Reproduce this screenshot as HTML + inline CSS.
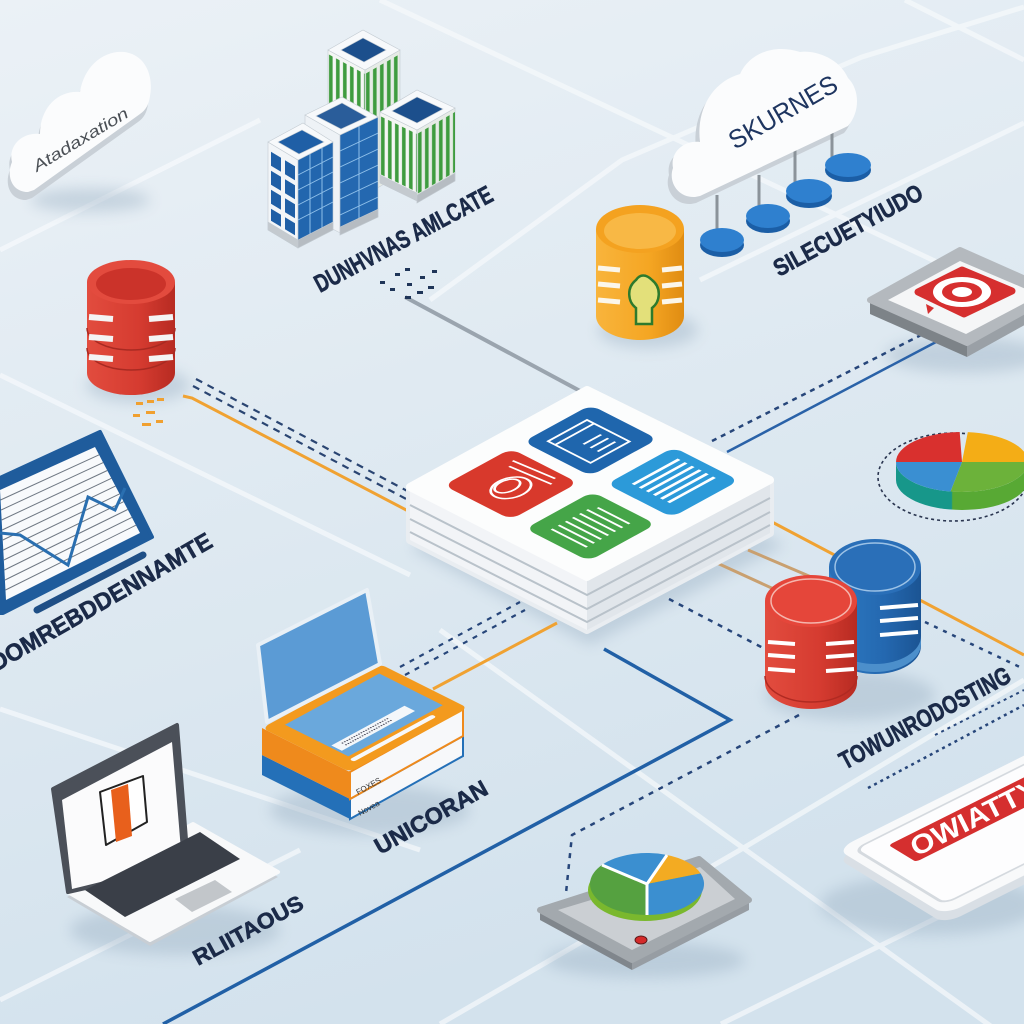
<!DOCTYPE html>
<html><head><meta charset="utf-8"><style>
html,body{margin:0;padding:0;width:1024px;height:1024px;overflow:hidden;background:#e3ecf3}
svg{display:block}
text{font-family:"Liberation Sans",sans-serif}
.lb{font-family:"Liberation Sans Narrow","Liberation Sans",sans-serif;font-weight:bold;fill:#1b2a48;stroke:#1b2a48;stroke-width:0.6}
</style></head><body>
<svg width="1024" height="1024" viewBox="0 0 1024 1024" xmlns="http://www.w3.org/2000/svg">
<defs>
<linearGradient id="bg" x1="0" y1="0" x2="0.3" y2="1">
<stop offset="0" stop-color="#ebf1f6"/><stop offset="1" stop-color="#d3e2ed"/>
</linearGradient>
<linearGradient id="cr" x1="0" x2="1"><stop offset="0" stop-color="#e24c3e"/><stop offset="0.6" stop-color="#d53b30"/><stop offset="1" stop-color="#b72b22"/></linearGradient>
<linearGradient id="co" x1="0" x2="1"><stop offset="0" stop-color="#f8b43c"/><stop offset="0.6" stop-color="#f5a623"/><stop offset="1" stop-color="#e08c12"/></linearGradient>
<linearGradient id="cb" x1="0" x2="1"><stop offset="0" stop-color="#2e7cc4"/><stop offset="0.6" stop-color="#2468b0"/><stop offset="1" stop-color="#1b5493"/></linearGradient>
<linearGradient id="pside" x1="0" x2="1"><stop offset="0" stop-color="#17978a"/><stop offset="0.42" stop-color="#17978a"/><stop offset="0.43" stop-color="#58a934"/><stop offset="1" stop-color="#58a934"/></linearGradient>
<pattern id="gs" width="7" height="20" patternUnits="userSpaceOnUse"><rect x="1" width="3.6" height="20" fill="#3f9c3f"/></pattern>
<filter id="bl" x="-30%" y="-30%" width="160%" height="160%"><feGaussianBlur stdDeviation="7"/></filter>
</defs>
<rect width="1024" height="1024" fill="url(#bg)"/>

<!-- grid -->
<g stroke="#f7fafc" stroke-width="5" opacity="0.7" fill="none">
<path d="M380,0 L1024,303"/>
<path d="M905,0 L1024,60"/>
<path d="M0,375 L410,575"/>
<path d="M0,709 L420,850"/>
<path d="M440,630 L1024,1050"/>
<path d="M430,300 L622,160 L862,57 L1024,7"/>
<path d="M700,280 L1024,123"/>
<path d="M440,1024 L740,850 L1024,680"/>
<path d="M721,1024 L1024,875"/>
<path d="M0,1000 L300,850"/>
<path d="M0,250 L260,120"/>
</g>

<!-- shadows -->
<g filter="url(#bl)" fill="#9fb4c6" opacity="0.45">
<ellipse cx="138" cy="385" rx="52" ry="18"/>
<ellipse cx="648" cy="330" rx="50" ry="18"/>
<polygon points="410,548 590,645 785,545 600,455"/>
<ellipse cx="850" cy="695" rx="85" ry="25"/>
<ellipse cx="175" cy="930" rx="105" ry="25"/>
<ellipse cx="370" cy="810" rx="100" ry="25"/>
<ellipse cx="645" cy="960" rx="100" ry="18"/>
<ellipse cx="965" cy="355" rx="80" ry="18"/>
<ellipse cx="930" cy="905" rx="110" ry="30"/>
<ellipse cx="90" cy="200" rx="60" ry="12"/>
</g>

<!-- connectors -->
<g fill="none" stroke-linecap="butt">
<path d="M405,297 L582,392" stroke="#9aa4ae" stroke-width="4"/>
<path d="M183,396 L192,398 L412,513" stroke="#f0a232" stroke-width="3"/>
<path d="M196,379 L413,494" stroke="#2a4572" stroke-width="2.2" stroke-dasharray="7 6"/>
<path d="M193,386 L410,501" stroke="#2a4572" stroke-width="2.2" stroke-dasharray="7 6"/>
<path d="M712,441 L925,333" stroke="#27467a" stroke-width="2.5" stroke-dasharray="5 5"/>
<path d="M727,452 L936,342" stroke="#2a62a8" stroke-width="2.5"/>
<path d="M772,522 L1024,655" stroke="#f0a232" stroke-width="3"/>
<path d="M717,563 L800,601" stroke="#c9a070" stroke-width="3"/>
<path d="M748,550 L830,585" stroke="#c9a070" stroke-width="3"/>
<path d="M669,599 L765,649" stroke="#27467a" stroke-width="2.5" stroke-dasharray="5 6"/>
<path d="M604,649 L730,720 L163,1024" stroke="#2160a6" stroke-width="3.5"/>
<path d="M799,715 L572,835 L566,893" stroke="#27467a" stroke-width="2.5" stroke-dasharray="5 6"/>
<path d="M433,689 L557,623" stroke="#f0a232" stroke-width="3"/>
<path d="M400,667 L520,602" stroke="#27467a" stroke-width="2.2" stroke-dasharray="5 6"/>
<path d="M405,675 L525,610" stroke="#27467a" stroke-width="2.2" stroke-dasharray="5 6"/>
<path d="M925,622 L1024,669" stroke="#27467a" stroke-width="2.5" stroke-dasharray="4 6"/>
<path d="M868,788 L1024,705" stroke="#27467a" stroke-width="2.5" stroke-dasharray="3 4"/>
<path d="M935,735 L1024,690" stroke="#27467a" stroke-width="2" stroke-dasharray="3 4"/>
</g>

<!-- small marks -->
<g fill="#f0a030">
<rect x="136" y="402" width="7" height="3"/><rect x="147" y="400" width="7" height="3"/><rect x="157" y="398" width="7" height="3"/>
<rect x="133" y="414" width="7" height="3"/><rect x="146" y="411" width="9" height="3"/>
<rect x="142" y="423" width="9" height="3"/><rect x="156" y="420" width="7" height="3"/>
</g>
<g fill="#1f3558">
<rect x="380" y="281" width="5" height="3"/><rect x="395" y="273" width="5" height="3"/><rect x="405" y="268" width="5" height="3"/>
<rect x="390" y="288" width="5" height="3"/><rect x="407" y="283" width="5" height="3"/><rect x="420" y="276" width="5" height="3"/><rect x="432" y="270" width="5" height="3"/>
<rect x="405" y="296" width="6" height="3"/><rect x="417" y="291" width="6" height="3"/><rect x="428" y="286" width="6" height="3"/>
</g>

<!-- top-left cloud -->
<path d="M26,200 C10,200 4,184 10,170 C6,154 20,140 38,142 C38,116 56,98 78,100 C82,74 102,58 122,60 C142,62 152,82 148,104 C147,112 144,118 138,122 L32,198 Z" fill="#c9d0d7"/>
<path d="M28,192 C12,192 6,176 12,162 C8,146 22,132 40,134 C40,108 58,90 80,92 C84,66 104,50 124,52 C144,54 154,74 150,96 C149,104 146,110 140,114 L34,190 Z" fill="#fbfcfd"/>
<text transform="translate(37,172) rotate(-31)" font-size="16" font-style="italic" fill="#4a4f55" textLength="108" lengthAdjust="spacingAndGlyphs">Atadaxation</text>

<!-- buildings -->
<g stroke="#c3cbd2" stroke-width="0.6">
<g transform="matrix(1,0.54,0,1,328,50)"><rect width="37" height="125" fill="#f4f6f4"/><rect y="4" width="37" height="116" fill="url(#gs)" stroke="none"/></g>
<g transform="matrix(1,-0.571,0,1,365,70)"><rect width="35" height="125" fill="#e6ebe6"/><rect y="4" width="35" height="116" fill="url(#gs)" stroke="none"/></g>
<polygon points="328,50 363,30 400,50 365,70" fill="#f7f9fb"/>
<polygon points="341,50 363,38 386,50 364,62" fill="#1c4f8c"/>
<g transform="matrix(1,0.486,0,1,380,112)"><rect width="37" height="71" fill="#f4f6f4"/><rect y="4" width="37" height="58" fill="url(#gs)" stroke="none"/><rect y="63" width="37" height="8" fill="#c4cacf"/></g>
<g transform="matrix(1,-0.579,0,1,417,130)"><rect width="38" height="73" fill="#e6ebe6"/><rect y="4" width="38" height="60" fill="url(#gs)" stroke="none"/><rect y="65" width="38" height="8" fill="#b6bcc2"/></g>
<polygon points="380,112 417,90 455,108 417,130" fill="#f7f9fb"/>
<polygon points="392,111 417,97 443,109 417,123" fill="#1c4f8c"/>
<g transform="matrix(1,0.51,0,1,305,115)"><rect width="35" height="100" fill="#eef2f6"/></g>
<g transform="matrix(1,-0.47,0,1,340,135)"><rect width="38" height="100" fill="#2468b0"/>
<path d="M0,16 H38 M0,32 H38 M0,48 H38 M0,64 H38 M0,80 H38 M19,0 V92" stroke="#8fc0ea" stroke-width="1"/>
<rect y="92" width="38" height="8" fill="#b6bcc2"/></g>
<polygon points="305,115 342,97 378,117 340,135" fill="#f7f9fb"/>
<polygon points="316,116 342,103 367,117 341,129" fill="#2a5d9a"/>
<g transform="matrix(1,0.6,0,1,268,142)"><rect width="30" height="88" fill="#f2f5f8"/>
<g fill="#1f5fa6" stroke="none"><rect x="3" y="8" width="10" height="14"/><rect x="17" y="8" width="10" height="14"/><rect x="3" y="27" width="10" height="14"/><rect x="17" y="27" width="10" height="14"/><rect x="3" y="46" width="10" height="14"/><rect x="17" y="46" width="10" height="14"/><rect x="3" y="65" width="10" height="12"/><rect x="17" y="65" width="10" height="12"/></g>
<rect y="80" width="30" height="8" fill="#c4cacf"/></g>
<g transform="matrix(1,-0.514,0,1,298,160)"><rect width="35" height="88" fill="#2266ae"/>
<path d="M0,15 H35 M0,30 H35 M0,45 H35 M0,60 H35 M12,0 V80 M24,0 V80" stroke="#8fc0ea" stroke-width="1"/>
<rect y="80" width="35" height="8" fill="#b6bcc2"/></g>
<polygon points="268,142 303,123 333,142 298,160" fill="#f7f9fb"/>
<polygon points="278,142 302,130 324,142 299,154" fill="#1f5fa6"/>
</g>
<text class="lb" transform="translate(320,293) rotate(-28)" font-size="25" textLength="198" lengthAdjust="spacingAndGlyphs">DUNHVNAS AMLCATE</text>

<!-- red DB left -->
<path d="M87,282 L87,373 A44,22 0 0 0 175,373 L175,282 Z" fill="url(#cr)"/>
<path d="M87,328 A44,22 0 0 0 175,328 M87,348 A44,22 0 0 0 175,348" fill="none" stroke="#a82a22" stroke-width="1.5"/>
<ellipse cx="131" cy="282" rx="44" ry="22" fill="#e34b3e"/>
<ellipse cx="131" cy="284" rx="35" ry="16" fill="#cb332a"/>
<g stroke="#f4f4f4" stroke-width="6"><path d="M89,317 L113,319 M149,319 L173,317 M89,337 L113,339 M149,339 L173,337 M89,357 L113,359 M149,359 L173,357"/></g>

<!-- orange cylinder -->
<path d="M596,229 L596,316 A44,24 0 0 0 684,316 L684,229 Z" fill="url(#co)"/>
<ellipse cx="640" cy="229" rx="44" ry="24" fill="#f4a220"/>
<ellipse cx="640" cy="231" rx="36" ry="18" fill="#f8b845"/>
<g stroke="#fbf6ea" stroke-width="5"><path d="M598,268 L620,270 M662,270 L682,268 M598,284 L620,286 M662,286 L682,284 M598,300 L620,302 M662,302 L682,300"/></g>
<path d="M636,280 C626,288 628,302 636,308 L636,324 L652,324 L652,308 C660,302 662,288 652,280 C646,274 640,274 636,280 Z" fill="#e3e07a" stroke="#2d7a2d" stroke-width="2.5"/>

<!-- top-right cloud -->
<path d="M691,204 C674,205 664,189 669,175 C666,159 680,147 696,149 C692,117 708,89 736,81 C746,59 772,51 796,59 C808,57 834,63 844,85 C856,97 856,119 844,133 L696,203 Z" fill="#c9d0d7"/>
<g stroke="#8b939a" stroke-width="3"><path d="M717,195 V236 M759,175 V212 M795,150 V186 M832,132 V160"/></g>
<path d="M695,197 C678,198 668,182 673,168 C670,152 684,140 700,142 C696,110 712,82 740,74 C750,52 776,44 800,52 C812,50 838,56 848,78 C860,90 860,112 848,126 L700,196 Z" fill="#fbfcfd"/>
<text transform="translate(735,150) rotate(-30)" font-size="26" fill="#1e3560" textLength="121" lengthAdjust="spacingAndGlyphs">SKURNES</text>
<g>
<ellipse cx="722" cy="245" rx="22" ry="12" fill="#1b5ea6"/><ellipse cx="722" cy="240" rx="22" ry="12" fill="#2f80cf"/>
<ellipse cx="768" cy="221" rx="22" ry="12" fill="#1b5ea6"/><ellipse cx="768" cy="216" rx="22" ry="12" fill="#2f80cf"/>
<ellipse cx="809" cy="196" rx="23" ry="12" fill="#1b5ea6"/><ellipse cx="809" cy="191" rx="23" ry="12" fill="#2f80cf"/>
<ellipse cx="848" cy="170" rx="23" ry="12" fill="#1b5ea6"/><ellipse cx="848" cy="165" rx="23" ry="12" fill="#2f80cf"/>
</g>
<text class="lb" transform="translate(779,277) rotate(-28.5)" font-size="24" textLength="166" lengthAdjust="spacingAndGlyphs">SILECUETYIUDO</text>

<!-- target box -->
<polygon points="870,300 967,343 967,357 870,314" fill="#7d8388"/>
<polygon points="967,343 1057,293 1057,307 967,357" fill="#9aa0a6"/>
<polygon points="870,300 960,250 1057,293 967,343" fill="#b4b9be" stroke="#b4b9be" stroke-width="6" stroke-linejoin="round"/>
<polygon points="888,300 960,261 1040,295 966,334" fill="#f5f6f7"/>
<polygon points="918,292 962,270 1012,291 964,314" fill="#d62f2f" stroke="#d62f2f" stroke-width="7" stroke-linejoin="round"/>
<polygon points="926,304 934,308 928,314" fill="#d62f2f"/>
<ellipse cx="962" cy="292" rx="29" ry="15" fill="#fff"/>
<ellipse cx="962" cy="292" rx="20" ry="10" fill="#d62f2f"/>
<ellipse cx="962" cy="292" rx="10" ry="5" fill="#fff"/>

<!-- right pie -->
<ellipse cx="953" cy="477" rx="75" ry="44" fill="none" stroke="#2a3550" stroke-width="1.6" stroke-dasharray="3 3"/>
<path d="M896,462 L896,480 A66,30 0 0 0 1028,480 L1028,462 A66,30 0 0 1 896,462 Z" fill="url(#pside)"/>
<path d="M962,462 L896,462 A66,30 0 0 1 959.7,432 Z" fill="#d9302e"/>
<path d="M962,462 L967.8,432.1 A66,30 0 0 1 1028,462 Z" fill="#f4ad16"/>
<path d="M962,462 L1028,462 A66,30 0 0 1 950.5,491.5 Z" fill="#6cb23a"/>
<path d="M962,462 L950.5,491.5 A66,30 0 0 1 896,462 Z" fill="#3a8fd2"/>

<!-- center stack -->
<polygon points="410,487 587,390 770,480 770,533 587,630 410,540" fill="#e9edf1" stroke="#e9edf1" stroke-width="8" stroke-linejoin="round"/>
<polygon points="410,487 587,577 587,630 410,540" fill="#f2f4f7"/>
<polygon points="587,577 770,480 770,533 587,630" fill="#e1e6eb"/>
<g fill="none" stroke="#b9c2ca" stroke-width="2">
<polyline points="410,505 587,595 770,498"/>
<polyline points="410,519 587,609 770,512"/>
<polyline points="410,532 587,622 770,525"/>
</g>
<polygon points="410,487 587,390 770,480 587,577" fill="#fcfdfd" stroke="#fcfdfd" stroke-width="8" stroke-linejoin="round"/>
<g transform="matrix(1.77,-0.97,1.77,0.90,410,487)">
<rect x="10" y="9" width="38" height="38" rx="5" fill="#d8392c"/>
<rect x="55" y="9" width="38" height="38" rx="5" fill="#1f66ad"/>
<rect x="9" y="56" width="38" height="36" rx="5" fill="#45a548"/>
<rect x="55" y="56" width="38" height="37" rx="5" fill="#2c9ad9"/>
<g fill="none" stroke="#fff" stroke-width="1.1">
<ellipse cx="27" cy="30" rx="9" ry="7"/><ellipse cx="27" cy="28" rx="6" ry="4"/><path d="M38,18 L40,40 M42,16 L44,38"/>
<rect x="62" y="16" width="22" height="24"/><path d="M62,20 H84 M70,28 H80 M70,32 H80 M70,36 H80"/>
<path d="M62,64 H88 M62,68 H88 M62,72 H88 M62,76 H88 M62,80 H88 M62,84 H88" stroke-width="1.6"/>
<path d="M16,64 V84 M20,64 V84 M24,64 V84 M28,64 V84 M32,64 V84 M36,64 V84 M40,66 V84"/>
</g>
</g>

<!-- right cylinders -->
<path d="M829,567 L829,646 A46,28 0 0 0 921,646 L921,567 Z" fill="url(#cb)"/>
<path d="M829,636 A46,28 0 0 0 921,636 L921,644 A46,28 0 0 1 829,644 Z" fill="#4c8fcb"/>
<ellipse cx="875" cy="567" rx="46" ry="28" fill="#2a6fb8"/>
<ellipse cx="875" cy="567" rx="40" ry="24" fill="none" stroke="#9cc2e6" stroke-width="1.5"/>
<g stroke="#fff" stroke-width="4"><path d="M880,608 L918,605 M880,621 L918,618 M880,635 L918,632"/></g>
<path d="M765,601 L765,683 A46,26 0 0 0 857,683 L857,601 Z" fill="url(#cr)"/>
<path d="M765,676 A46,26 0 0 0 857,676" fill="none" stroke="#b02a22" stroke-width="1.5"/>
<ellipse cx="811" cy="601" rx="46" ry="26" fill="#e5463a"/>
<ellipse cx="811" cy="601" rx="40" ry="22" fill="none" stroke="#f5b5ad" stroke-width="1.5"/>
<g stroke="#fff" stroke-width="4"><path d="M768,642 L795,644 M826,644 L854,642 M768,655 L795,657 M826,657 L854,655 M768,669 L795,671 M826,671 L854,669"/></g>
<text class="lb" transform="translate(845,770) rotate(-28)" font-size="25" textLength="190" lengthAdjust="spacingAndGlyphs">TOWUNRODOSTING</text>

<!-- sign -->
<g transform="translate(0,9)"><g transform="matrix(2,-1,1.15,0.7,830,845)"><rect y="6" width="115" height="94" rx="8" fill="#d9dfe5"/></g></g>
<g transform="matrix(2,-1,1.15,0.7,830,845)">
<rect y="6" width="115" height="94" rx="8" fill="#f8f9fa"/>
<rect x="5" y="13" width="110" height="78" rx="5" fill="#fdfdfe" stroke="#d5dadf" stroke-width="1.5"/>
<rect x="16" y="23" width="110" height="24" rx="2" fill="#d52f2f"/>
</g>
<text transform="translate(916,857) rotate(-26.6)" font-size="27" font-weight="bold" fill="#fff" textLength="140" lengthAdjust="spacingAndGlyphs">OWIATTY</text>

<!-- monitor chart -->
<polygon points="0,478 100,432 152,537 3,613 0,613" fill="#1f5c9c" stroke="#1f5c9c" stroke-width="4" stroke-linejoin="round"/>
<polygon points="0,490 95,447 140,533 6,600" fill="#f8fafc"/>
<g stroke="#6f7883" stroke-width="1">
<path d="M0.5,500 L99.1,454.8 M1.1,510 L103.2,462.6 M1.7,520 L107.3,470.5 M2.2,530 L111.4,478.3 M2.8,540 L115.5,486.1 M3.3,550 L119.5,493.9 M3.9,560 L123.6,501.7 M4.4,570 L127.7,509.5 M5,580 L131.8,517.4 M5.5,590 L135.9,525.2"/>
</g>
<polyline points="0,533 20,535 68,565 88,497 115,510 125,488" fill="none" stroke="#2a6fb0" stroke-width="3"/>
<path d="M37,610 L143,555" stroke="#1f4f86" stroke-width="7" stroke-linecap="round"/>
<text class="lb" transform="translate(-4,672) rotate(-30)" font-size="24" textLength="252" lengthAdjust="spacingAndGlyphs">DOMREBDDENNAMTE</text>

<!-- laptop/book stack -->
<polygon points="262,755 350,799 350,819 262,775" fill="#2470b8"/>
<polygon points="350,799 463,736 463,756 350,819" fill="#f7f8fa" stroke="#2470b8" stroke-width="2"/>
<polygon points="262,728 350,772 350,799 262,755" fill="#ef8a1c"/>
<polygon points="350,772 463,709 463,736 350,799" fill="#f7f8fa" stroke="#ef8a1c" stroke-width="2"/>
<text transform="translate(358,795) rotate(-29)" font-size="8" fill="#333">FOXES</text>
<text transform="translate(360,816) rotate(-29)" font-size="8" fill="#333">Novea</text>
<g transform="matrix(1.18,-0.64,0.88,0.44,262,728)">
<rect width="100" height="100" rx="6" fill="#f39a1e"/>
<rect x="12" y="10" width="80" height="72" fill="#6aa8dc"/>
<rect x="14" y="60" width="62" height="12" fill="#f4f7fa"/>
<path d="M20,64 H60 M20,68 H60" stroke="#445" stroke-width="1.5" stroke-dasharray="1 1"/>
<rect x="10" y="86" width="70" height="5" rx="2" fill="#f7f8fa"/>
</g>
<polygon points="258,645 367,590 380,664 267,722" fill="#5b9bd5" stroke="#e9f0f6" stroke-width="4" stroke-linejoin="round"/>
<text class="lb" transform="translate(380,855) rotate(-29.4)" font-size="23" textLength="126" lengthAdjust="spacingAndGlyphs">UNICORAN</text>

<!-- laptop bottom-left -->
<polygon points="67,897 195,829 278,877 150,946" fill="#c8ced4"/>
<polygon points="68,892 193,824 278,872 150,940" fill="#f8f9fa" stroke="#f8f9fa" stroke-width="4" stroke-linejoin="round"/>
<polygon points="53,789 177,725 188,865 68,892" fill="#4b5059" stroke="#4b5059" stroke-width="4" stroke-linejoin="round"/>
<polygon points="62,800 172,742 182,862 72,889" fill="#fbfbfc"/>
<polygon points="100,792 143,776 147,822 106,845" fill="#fff" stroke="#222" stroke-width="2" stroke-linejoin="round"/>
<polygon points="111,790 128,784 132,836 116,842" fill="#e8601c"/>
<polygon points="85,890 200,832 240,859 125,917" fill="#3a3f48"/>
<polygon points="175,899 215,880 232,892 192,912" fill="#c2c6ca"/>
<text class="lb" transform="translate(198,966) rotate(-28.5)" font-size="22" textLength="122" lengthAdjust="spacingAndGlyphs">RLIITAOUS</text>

<!-- pie device -->
<polygon points="540,910 632,960 632,970 540,920" fill="#80868c"/>
<polygon points="632,960 749,900 749,910 632,970" fill="#979da3"/>
<polygon points="540,910 699,859 749,900 632,960" fill="#a3a9ae" stroke="#a3a9ae" stroke-width="6" stroke-linejoin="round"/>
<polygon points="558,910 700,867 735,899 632,950" fill="#cbcfd3"/>
<ellipse cx="641" cy="940" rx="6" ry="4" fill="#d42a2a" stroke="#5a1a1a" stroke-width="1"/>
<ellipse cx="645" cy="890" rx="57" ry="31" fill="#7ab82e"/>
<path d="M647,884 L647,915 A57,31 0 0 1 602.1,864.9 Z" fill="#55a140"/>
<path d="M647,884 L602.1,864.9 A57,31 0 0 1 666.5,854.9 Z" fill="#3b8fd0"/>
<path d="M647,884 L666.5,854.9 A57,31 0 0 1 700.6,873.4 Z" fill="#f3ab22"/>
<path d="M647,884 L700.6,873.4 A57,31 0 0 1 647,915 Z" fill="#3b8fd0"/>
<path d="M647,884 L602,865 M647,884 L667,855 M647,884 L647,915" stroke="#fff" stroke-width="3"/>
</svg>
</body></html>
